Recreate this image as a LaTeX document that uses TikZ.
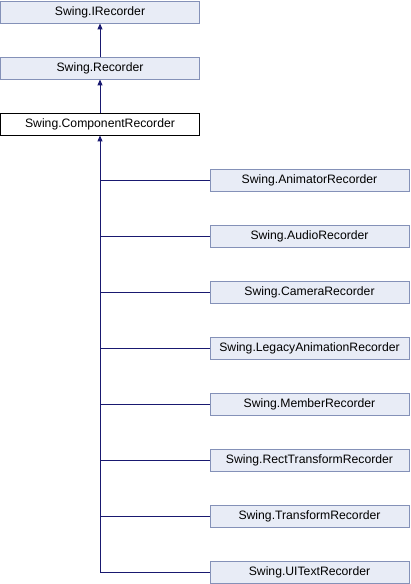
\documentclass[tikz,border=0pt]{standalone}
\usepackage{fontspec}
\setmainfont{Liberation Sans}
\usetikzlibrary{arrows.meta}
\definecolor{boxfill}{HTML}{E8ECF6}
\definecolor{boxdraw}{HTML}{8491B8}
\definecolor{linkcol}{HTML}{191970}
\begin{document}
\begin{tikzpicture}[x=1pt,y=-1pt,
  cls/.style={draw=boxdraw,fill=boxfill,line width=0.9pt,minimum width=199pt,minimum height=22pt,inner sep=0pt,font=\fontsize{12.2}{13}\selectfont},
  cur/.style={cls,draw=black,fill=white},
  link/.style={draw=linkcol,line width=1pt},
  inh/.style={link,-{Triangle[length=6pt,width=5pt]}}]
\useasboundingbox (0,0) rectangle (410,584);
\node[cls] (irec) at (100,12) {Swing.IRecorder};
\node[cls] (rec) at (100,68) {Swing.Recorder};
\node[cur] (comp) at (100,124) {Swing.ComponentRecorder};
\node[cls] (anim) at (309.5,180) {Swing.AnimatorRecorder};
\node[cls] (audio) at (309.5,236) {Swing.AudioRecorder};
\node[cls] (cam) at (309.5,292) {Swing.CameraRecorder};
\node[cls] (leg) at (309.5,348) {Swing.LegacyAnimationRecorder};
\node[cls] (mem) at (309.5,404) {Swing.MemberRecorder};
\node[cls] (rect) at (309.5,460) {Swing.RectTransformRecorder};
\node[cls] (trans) at (309.5,516) {Swing.TransformRecorder};
\node[cls] (ui) at (309.5,572) {Swing.UITextRecorder};
\draw[inh] (rec) -- (irec);
\draw[inh] (comp) -- (rec);
\coordinate (jend) at (ui.west -| comp.south);
\draw[inh] (jend) -- (comp.south);
\foreach \c in {anim,audio,cam,leg,mem,rect,trans,ui}
  \draw[link] (\c.west) -- (\c.west -| comp.south);
\end{tikzpicture}
\end{document}
